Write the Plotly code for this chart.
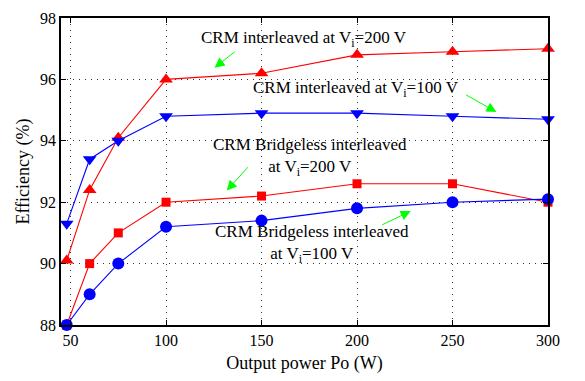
import plotly.graph_objects as go

power = [48, 60, 75, 100, 150, 200, 250, 300]
crm_200 = [90.1, 92.4, 94.1, 96.0, 96.2, 96.8, 96.9, 97.0]
crm_100 = [91.3, 93.4, 94.0, 94.8, 94.9, 94.9, 94.8, 94.7]
bl_200 = [88.0, 90.0, 91.0, 92.0, 92.2, 92.6, 92.6, 92.0]
bl_100 = [88.0, 89.0, 90.0, 91.2, 91.4, 91.8, 92.0, 92.1]

x_ticks = [50, 100, 150, 200, 250, 300]
y_ticks = [88, 90, 92, 94, 96, 98]

FONT = "Liberation Serif"
RED = "#ff0000"
BLUE = "#0000ff"
GREEN = "#00ff00"

fig = go.Figure()
series = [
    (crm_200, RED, "triangle-up", 12),
    (crm_100, BLUE, "triangle-down", 12),
    (bl_200, RED, "square", 9),
    (bl_100, BLUE, "circle", 12),
]
for ys, col, sym, sz in series:
    fig.add_trace(go.Scatter(
        x=power, y=ys, mode="lines+markers",
        line=dict(color=col, width=1.1),
        marker=dict(symbol=sym, size=sz, color=col),
        showlegend=False, cliponaxis=False,
    ))

texts = [
    ("CRM interleaved at V<sub>i</sub>=200 V", 172.3, 97.31),
    ("CRM interleaved at V<sub>i</sub>=100 V", 199.7, 95.68),
    ("CRM Bridgeless interleaved<br>at V<sub>i</sub>=200 V", 175.5, 93.46),
    ("CRM Bridgeless interleaved<br>at V<sub>i</sub>=100 V", 176.5, 90.64),
]
for t, x, y in texts:
    fig.add_annotation(x=x, y=y, text=t, showarrow=False, borderpad=0,
                       font=dict(family=FONT, size=17, color="black"))

arrows = [
    ((136.8, 96.94), (125.4, 96.38)),
    ((256.4, 95.52), (273.0, 94.94)),
    ((143.6, 93.19), (131.8, 92.38)),
    ((212.4, 91.24), (228.1, 91.71)),
]
for (tx, ty), (hx, hy) in arrows:
    fig.add_annotation(x=hx, y=hy, ax=tx, ay=ty, axref="x", ayref="y",
                       xref="x", yref="y", text="", showarrow=True,
                       arrowhead=2, arrowsize=2, arrowwidth=1, arrowcolor=GREEN)

axis_common = dict(
    showline=True, linecolor="black", linewidth=1.8, mirror="ticks",
    ticks="inside", ticklen=5, tickcolor="black", tickwidth=1,
    showgrid=True, gridcolor="#333333", gridwidth=1, griddash="1px,5px",
    zeroline=False,
    tickfont=dict(family=FONT, size=16, color="black"),
)
fig.update_xaxes(range=[45, 300], tickvals=x_ticks,
                 title=dict(text="Output power Po (W)", font=dict(family=FONT, size=18, color="black"), standoff=8),
                 **axis_common)
fig.update_yaxes(range=[88, 98], tickvals=y_ticks,
                 title=dict(text="Efficiency (%)", font=dict(family=FONT, size=18, color="black"), standoff=6),
                 **axis_common)
fig.update_layout(
    width=585, height=381,
    margin=dict(l=61, r=37, t=10, b=56),
    paper_bgcolor="white", plot_bgcolor="white",
    font=dict(family=FONT),
)
fig.write_html("out.html")
